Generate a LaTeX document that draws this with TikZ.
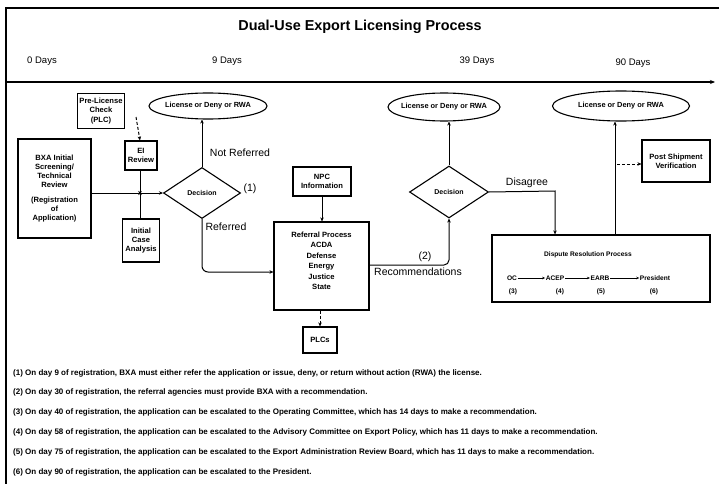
\documentclass[tikz,border=0pt]{standalone}
\usepackage{fontspec}
\setmainfont{Liberation Sans}
\usetikzlibrary{shapes.geometric,arrows.meta}
\tikzset{
  boxfont/.style={font=\fontsize{7.6}{9.2}\selectfont\bfseries},
  box/.style={draw,line width=1.2pt,inner sep=1pt,align=center,boxfont},
  oval/.style={draw,ellipse,line width=1.1pt,inner sep=0pt},
  ovaltext/.style={font=\fontsize{7.4}{8}\selectfont\bfseries,inner sep=0pt},
  dec/.style={draw,diamond,line width=1.1pt,inner sep=0pt,font=\fontsize{7}{8}\selectfont\bfseries},
  conn/.style={line width=1pt,-{Stealth[length=4pt,width=3.5pt]}},
  dconn/.style={line width=1pt,dashed,dash pattern=on 3pt off 2pt,-{Stealth[length=4pt,width=3.5pt]}},
  lbl/.style={font=\fontsize{10.5}{12}\selectfont},
  day/.style={font=\fontsize{9.5}{11}\selectfont},
  note/.style={anchor=west,font=\fontsize{8}{9}\selectfont\bfseries,inner sep=0pt},
  small/.style={font=\fontsize{6.6}{7.5}\selectfont\bfseries,inner sep=0.5pt}
}
\begin{document}
\begin{tikzpicture}[x=1pt,y=-1pt]
\useasboundingbox (0,0) rectangle (722,484);
% frame
\coordinate (tl) at (6,8);
\coordinate (tr) at (719,8);
\coordinate (bl) at (6,484);
\draw[line width=1.1pt] (tr) -- (tl) -- (bl);
\coordinate (ts) at (6,82);
\coordinate (te) at (715,82);
\draw[line width=1.2pt,-{Stealth[length=5pt,width=4pt]}] (ts) -- (te);
% title and days
\node[font=\fontsize{14.4}{16}\selectfont\bfseries] (title) at (360,27) {Dual-Use Export Licensing Process};
\node[day] (d0) at (42,61) {0 Days};
\node[day] (d9) at (227,61) {9 Days};
\node[day] (d39) at (477,61) {39 Days};
\node[day] (d90) at (633,63) {90 Days};
% boxes
\node[box,minimum width=47pt,minimum height=35pt] (plc) at (101,111) {Pre-License\\Check\\(PLC)};
\node[box,minimum width=32pt,minimum height=29pt] (ei) at (141,155.5) {EI\\Review};
\node[box,minimum width=73pt,minimum height=99pt] (bxa) at (54.5,188.5) {BXA Initial\\Screening/\\Technical\\Review\\[5pt](Registration\\of\\Application)};
\node[box,minimum width=37pt,minimum height=43pt] (ica) at (141,240.5) {Initial\\Case\\Analysis};
\node[dec,minimum width=77pt,minimum height=51pt] (dec1) at (202,193) {Decision};
\node[oval,minimum width=118pt,minimum height=26pt,label={[ovaltext]center:License or Deny or RWA}] (ov1) at (208,106) {};
\node[box,minimum width=58pt,minimum height=29pt] (npc) at (322,181.5) {NPC\\Information};
\node[draw,line width=1.2pt,minimum width=95pt,minimum height=88pt] (ref) at (321.5,266) {};
\node[box,draw=none,anchor=north,font=\fontsize{7.6}{10.5}\selectfont\bfseries] (reftext) at (321.5,230) {Referral Process\\ACDA\\Defense\\Energy\\Justice\\State};
\node[box,minimum width=34pt,minimum height=26pt] (plcs) at (320,340) {PLCs};
\node[dec,minimum width=79pt,minimum height=52pt] (dec2) at (449,192) {Decision};
\node[oval,minimum width=112pt,minimum height=28pt,label={[ovaltext]center:License or Deny or RWA}] (ov2) at (444,107) {};
\node[draw,line width=1.2pt,minimum width=218pt,minimum height=67pt] (disp) at (601,268.5) {};
\node[small] (disptitle) at (588,255) {Dispute Resolution Process};
\node[small] (oc) at (512,278) {OC};
\node[small] (acep) at (555,278) {ACEP};
\node[small] (earb) at (600,278) {EARB};
\node[small] (pres) at (655,278) {President};
\node[small] (n3) at (513,292) {(3)};
\node[small] (n4) at (560,292) {(4)};
\node[small] (n5) at (601,292) {(5)};
\node[small] (n6) at (654,292) {(6)};
\node[oval,minimum width=137pt,minimum height=30pt,label={[ovaltext]center:License or Deny or RWA}] (ov3) at (621,106) {};
\node[box,minimum width=68pt,minimum height=42pt] (psv) at (676,161) {Post Shipment\\Verification};
% labels
\node[lbl] (notref) at (240,153) {Not Referred};
\node[lbl] (one) at (250,189) {(1)};
\node[lbl] (refd) at (226,227) {Referred};
\node[lbl] (two) at (425,257) {(2)};
\node[lbl] (recs) at (418,272) {Recommendations};
\node[lbl] (disag) at (527,183) {Disagree};
% connectors
\coordinate (junc) at (140,193);
\draw[conn] (bxa.east |- junc) -- (dec1.west);
\draw[conn] (ei.south -| junc) -- ([yshift=-2pt]junc);
\draw[conn] (ica.north -| junc) -- ([yshift=2pt]junc);
\coordinate (dstart) at (136,117);
\draw[dconn] (dstart) -- (ei.north -| junc);
\draw[conn] (dec1.north) -- (dec1.north |- ov1.south);
\coordinate (refcorner) at (202,272);
\draw[conn,rounded corners=6pt] (dec1.south) -- (refcorner) -- (ref.west |- refcorner);
\draw[conn] (npc.south) -- (npc.south |- ref.north);
\draw[dconn] (ref.south -| plcs.north) -- (plcs.north);
\coordinate (reccorner) at (449,265);
\draw[conn,rounded corners=5pt] (ref.east |- reccorner) -- (reccorner) -- (dec2.south);
\draw[conn] (dec2.north) -- (dec2.north |- ov2.south);
\coordinate (discorner) at (555,191);
\draw[conn] (dec2.east) -- (discorner) -- (discorner |- disp.north);
\coordinate (upx) at (615,0);
\draw[conn] (disp.north -| upx) -- (upx |- ov3.south);
\coordinate (psvstart) at (617,164);
\draw[dconn] (psvstart) -- (psv.west |- psvstart);
\draw[conn,line width=0.8pt,-{Stealth[length=3pt,width=2.5pt]}] (oc.east) -- (acep.west);
\draw[conn,line width=0.8pt,-{Stealth[length=3pt,width=2.5pt]}] (acep.east) -- (earb.west);
\draw[conn,line width=0.8pt,-{Stealth[length=3pt,width=2.5pt]}] (earb.east) -- (pres.west);
% footnotes
\node[note] (f1) at (13,373) {(1) On day 9 of registration, BXA must either refer the application or issue, deny, or return without action (RWA) the license.};
\node[note] (f2) at (13,392) {(2) On day 30 of registration, the referral agencies must provide BXA with a recommendation.};
\node[note] (f3) at (13,412) {(3) On day 40 of registration, the application can be escalated to the Operating Committee, which has 14 days to make a recommendation.};
\node[note] (f4) at (13,432) {(4) On day 58 of registration, the application can be escalated to the Advisory Committee on Export Policy, which has 11 days to make a recommendation.};
\node[note] (f5) at (13,452) {(5) On day 75 of registration, the application can be escalated to the Export Administration Review Board, which has 11 days to make a recommendation.};
\node[note] (f6) at (13,472) {(6) On day 90 of registration, the application can be escalated to the President.};
\end{tikzpicture}
\end{document}
